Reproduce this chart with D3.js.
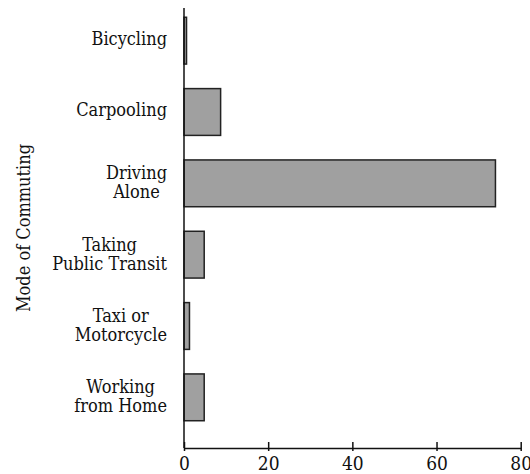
<!DOCTYPE html>
<html>
<head>
<meta charset="utf-8">
<script src="https://cdn.jsdelivr.net/npm/d3@7"></script>
<style>
  body { margin: 0; background: #fff; }
</style>
</head>
<body>
<script>
// commuting mode shares (percent)
var modes = ["Bicycling", "Carpooling", "Driving Alone", "Taking Public Transit", "Taxi or Motorcycle", "Working from Home"];
var modeLines = [["Bicycling"], ["Carpooling"], ["Driving", "Alone"], ["Taking", "Public Transit"], ["Taxi or", "Motorcycle"], ["Working", "from Home"]];
var shares = [0.6, 8.7, 74, 4.8, 1.3, 4.8];
var xTicks = [0, 20, 40, 60, 80];

var width = 530, height = 474,
    axisX = 184, axisY = 448,
    serif = "'DejaVu Serif Condensed', 'DejaVu Serif', serif";

var svg = d3.select("body").append("svg")
    .attr("width", width).attr("height", height)
    .style("font-family", serif)
    .style("font-stretch", "condensed");

var x = d3.scaleLinear()
    .domain([0, 80])
    .range([axisX, 520.7]);

var y = d3.scaleBand()
    .domain(modes)
    .range([5, 433])
    .paddingInner(0.344)
    .paddingOuter(0.172);

// bars
svg.append("g")
  .selectAll("rect")
  .data(shares)
  .enter().append("rect")
    .attr("x", x(0))
    .attr("y", function(d, i) { return y(modes[i]); })
    .attr("width", function(d) { return x(d) - x(0); })
    .attr("height", y.bandwidth())
    .attr("fill", "#a0a0a0")
    .attr("stroke", "#222")
    .attr("stroke-width", 1.5);

// x axis, ticks cross the line
var xAxis = d3.axisBottom(x).tickValues(xTicks).tickSizeOuter(0).tickFormat(d3.format("d"));
var gx = svg.append("g")
  .attr("transform", "translate(0," + axisY + ")")
  .call(xAxis)
  .attr("font-family", null)
  .style("font-family", serif);
gx.select(".domain").attr("stroke", "#111").attr("stroke-width", 1.5);
gx.selectAll(".tick line").attr("y1", -6).attr("y2", 3).attr("stroke", "#111").attr("stroke-width", 1.5);
gx.selectAll(".tick text")
  .attr("y", 22).attr("dy", 0)
  .attr("font-size", 19)
  .attr("fill", "#111");

// y axis line
svg.append("line")
  .attr("x1", axisX).attr("x2", axisX)
  .attr("y1", 8).attr("y2", axisY)
  .attr("stroke", "#111").attr("stroke-width", 1.5);

// category labels: centred lines, block right-aligned to 167
var labelRight = 167;
modeLines.forEach(function(lines, i) {
  var mid = y(modes[i]) + y.bandwidth() / 2;
  var g = svg.append("g");
  var texts = lines.map(function(l, j) {
    var base = lines.length == 1 ? mid + 4 : mid - 4 + j * 19;
    return g.append("text")
      .attr("y", base)
      .attr("font-size", 18)
      .attr("fill", "#111")
      .attr("text-anchor", "middle")
      .text(l);
  });
  var w = d3.max(texts, function(t) { return t.node().getComputedTextLength(); });
  texts.forEach(function(t) { t.attr("x", labelRight - w / 2); });
});

// axis title
svg.append("text")
  .attr("transform", "translate(30,228) rotate(-90)")
  .attr("text-anchor", "middle")
  .attr("font-size", 18)
  .attr("fill", "#111")
  .text("Mode of Commuting");
</script>
</body>
</html>
